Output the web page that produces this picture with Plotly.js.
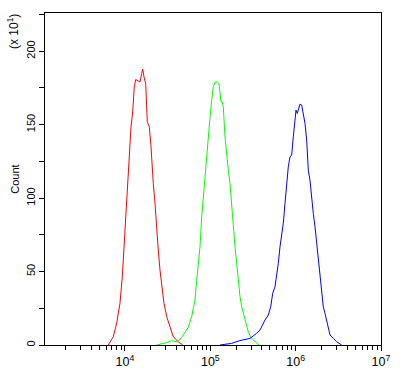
<!DOCTYPE html>
<html>
<head>
<meta charset="utf-8">
<script src="https://cdn.plot.ly/plotly-3.0.1.min.js"></script>
<style>
html,body{margin:0;padding:0;background:#fff;}
#chart{width:401px;height:377px;}
</style>
</head>
<body>
<div id="chart"></div>
<script>
// Fluorescence intensity (x) and counts in units of 10^1 (y)
var redX = [6370,7290,8000,8740,9300,9810,10270,10760,11230,11760,12310,12850,13350,14090,14990,15690,16120,16700,17480,18250,19270,20170,20560,21460,22470,23520,24560,25710,26920,28640,30810,33670,36810,42150,47450];
var redY = [0,5.6,15,28.5,46.5,69,92,114.5,126,148.5,158.7,175.7,180.7,180,179,184.8,187.8,182.5,178,152,148.5,135,123.6,110,96.4,76,64.6,51,39.7,28.4,19.3,12.5,5.6,2.2,0];

var greenX = [23520,30810,35270,41020,46180,50480,55180,60480,66130,69230,72280,75680,79230,82730,86610,90680,94660,99110,103750,108340,113420,120650,126330,129780,133350,138130,141900,148550,155510,162380,170000,177970,185840,194560,203700,212700,222680,233120,243420,259700,278600,297200,333800,371900];
var greenY = [0,1.6,3,2,5.2,9,12,19.3,31,44,55.6,67,87,101,114.5,128,141.7,155,166.7,175.7,179,179,178,169,165.5,165.5,162,141.7,128,119,110,94,82.8,66.9,55.6,44.2,32.9,26,21.5,14.7,9,5.2,2.2,0];

var blueX = [129780,177970,222680,291600,349400,382100,437200,478000,510000,538200,572700,599600,626100,655500,686200,716500,749900,785200,819800,858300,898500,938200,982200,1009000,1045000,1074000,1124000,1177000,1229000,1287000,1347000,1406000,1472000,1541000,1609000,1685000,1764000,1842000,1929000,2019000,2108000,2207000,2311000,2413000,2526000,2761000,3026000,3463000];
var blueY = [0,1.1,3,4.5,8,10.2,17,20.4,26,35.2,39.7,46.5,55.6,66.9,73.7,82.8,96.4,112.2,121.3,128,129.3,141.7,155.3,159.9,157.6,159.9,164,163.3,157.6,150.8,139.5,119,112.2,98.6,89.6,80.5,69.2,57.8,44.2,35.2,26,21.5,17,11.3,6.8,4.5,2.2,0];

var xTickVals = [1e4,1e5,1e6,1e7];
var xTickText = ['10<sup>4</sup>','10<sup>5</sup>','10<sup>6</sup>','10<sup>7</sup>'];
var yTickVals = [0,50,100,150,200];

// minor tick positions for the log axis (2..9 times each decade)
var xMinor = [];
[1e3,1e4,1e5,1e6].forEach(function(d){
  for (var k=2;k<=9;k++){ if (d*k > 1160) xMinor.push(d*k); }
});

var font = {family:'Liberation Sans, Arial, sans-serif', size:11, color:'#000'};

var traces = [
  {x:redX, y:redY, type:'scatter', mode:'lines', line:{color:'#ff0000', width:1}, hoverinfo:'skip'},
  {x:greenX, y:greenY, type:'scatter', mode:'lines', line:{color:'#00ff00', width:1}, hoverinfo:'skip'},
  {x:blueX, y:blueY, type:'scatter', mode:'lines', line:{color:'#0000ff', width:1}, hoverinfo:'skip'}
];

var layout = {
  width:401, height:377,
  margin:{l:45, r:20, t:13, b:32},
  paper_bgcolor:'#fff', plot_bgcolor:'#fff',
  showlegend:false,
  font:font,
  xaxis:{
    type:'log', range:[Math.log10(1155), 7],
    tickmode:'array', tickvals:xTickVals, ticktext:xTickText,
    ticks:'outside', ticklen:5, tickwidth:1, tickcolor:'#000',
    minor:{tickmode:'array', tickvals:xMinor, ticks:'outside', ticklen:4, tickwidth:1, tickcolor:'#000', showgrid:false},
    showgrid:false, zeroline:false,
    showline:true, linecolor:'#000', linewidth:1, mirror:true,
    tickfont:{family:'Liberation Sans, Arial, sans-serif', size:12.5, color:'#000'}
  },
  yaxis:{
    range:[0,226],
    tickmode:'array', tickvals:yTickVals,
    ticks:'outside', ticklen:5, tickwidth:1, tickcolor:'#000',
    minor:{dtick:25, tick0:0, ticks:'outside', ticklen:5, tickwidth:1, tickcolor:'#000', showgrid:false},
    tickangle:-90,
    showgrid:false, zeroline:false,
    showline:true, linecolor:'#000', linewidth:1, mirror:true,
    tickfont:font,
    title:{text:'Count', font:font, standoff:2}
  },
  annotations:[{
    xref:'paper', yref:'paper', x:-0.095, y:0.943,
    text:'(x 10<sup>1</sup>)', showarrow:false, textangle:-90,
    xanchor:'center', yanchor:'middle', font:{family:'Liberation Sans, Arial, sans-serif', size:12, color:'#000'}
  }]
};

Plotly.newPlot('chart', traces, layout, {staticPlot:true, displayModeBar:false});
</script>
</body>
</html>
